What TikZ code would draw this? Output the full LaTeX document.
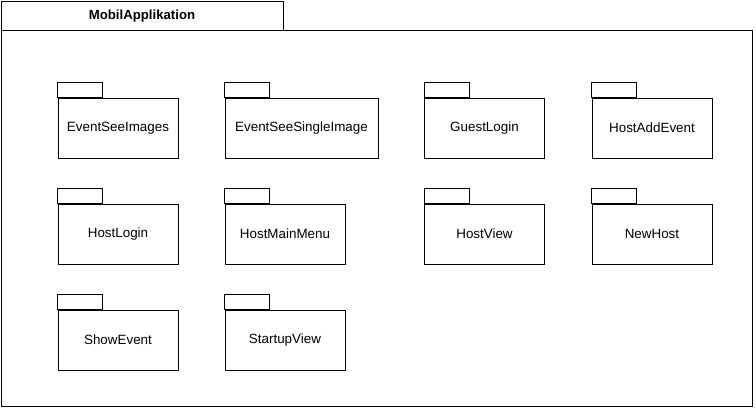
\documentclass[tikz,border=0pt]{standalone}
\usepackage{fontspec}
\setmainfont{Liberation Sans}
\usepackage{tikz}

\tikzset{
  pkg/.style={draw, line width=1pt, minimum width=120pt, minimum height=60pt,
    inner sep=0pt, font=\fontsize{13.4}{16}\selectfont},
  pkgtab/.style={draw, line width=1pt}
}

\begin{document}
\begin{tikzpicture}[x=1pt, y=-1pt]
      \useasboundingbox (0,0) rectangle (756,408);
      % outer package
      \draw [line width=1pt] (1,1) rectangle (283,30);
      \draw [line width=1pt] (1,30) rectangle (752,406);
      \node (M) at (142,16) {\fontsize{13.2}{16}\selectfont\bfseries MobilApplikation};
      % inner packages
      \node [pkg] (ESI) at (118,128) {EventSeeImages};
      \node [pkg, minimum width=153pt] (ESSI) at (301.5,128) {EventSeeSingleImage};
      \node [pkg] (GL) at (484.5,128) {GuestLogin};
      \node [pkg] (HAE) at (652,128) {HostAddEvent};
      \node [pkg] (HL) at (118,234) {HostLogin};
      \node [pkg] (HMM) at (285,234) {HostMainMenu};
      \node [pkg] (HV) at (484.5,234) {HostView};
      \node [pkg] (NH) at (652,234) {NewHost};
      \node [pkg] (SE) at (118,340) {ShowEvent};
      \node [pkg] (SV) at (285,340) {StartupView};
      % tabs
      \foreach \p in {ESI,ESSI,GL,HAE,HL,HMM,HV,NH,SE,SV}
        \draw [pkgtab] (\p.north west) rectangle ++(45,-15);
\end{tikzpicture}
\end{document}
